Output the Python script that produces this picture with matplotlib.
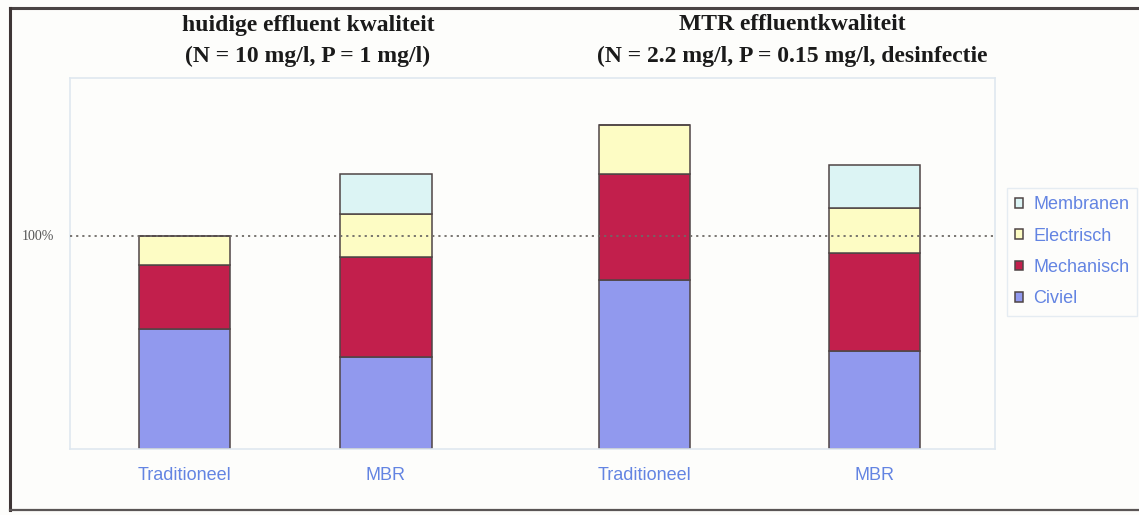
import matplotlib
matplotlib.use("Agg")
import matplotlib.pyplot as plt
from matplotlib.patches import Patch
from matplotlib.lines import Line2D
import numpy as np

# Relative investment costs (% of current traditional plant)
categories = ["Traditioneel", "MBR", "Traditioneel", "MBR"]
civiel = [56, 43, 79, 46]
mechanisch = [30, 47, 50, 46]
electrisch = [14, 20, 23, 21]
membranen = [0, 19, 0, 20]

series_names = ["Civiel", "Mechanisch", "Electrisch", "Membranen"]
series_values = [civiel, mechanisch, electrisch, membranen]
series_colors = ["#9199ee", "#c21f4c", "#fdfcc4", "#dcf4f4"]

group_titles = [
    ("huidige effluent kwaliteit", "(N = 10 mg/l, P = 1 mg/l)"),
    ("MTR effluentkwaliteit", "(N = 2.2 mg/l, P = 0.15 mg/l, desinfectie"),
]

W, H = 1139, 515
fig = plt.figure(figsize=(W / 100, H / 100), dpi=100)
fig.patch.set_facecolor("#fdfdfb")


def px(x, y):
    return x / W, 1 - y / H


# outer frame
for (x0, y0), (x1, y1), col, lw in [
    ((10, 8), (1139, 8), "#4a4444", 2.2),
    ((10, 8), (10, 510), "#3e3535", 2.2),
    ((10, 510), (1139, 510), "#5a5555", 1.6),
]:
    a, b = px(x0, y0)
    c, d = px(x1, y1)
    fig.add_artist(Line2D([a, c], [b, d], transform=fig.transFigure,
                          color=col, linewidth=lw))

ax = fig.add_axes([70 / W, (H - 449) / H, 925 / W, (449 - 78) / H])
ax.set_facecolor("#fdfdfb")

positions = np.array([0.0, 1.0, 2.283, 3.424])
bar_w = 0.452

bottom = np.zeros(len(categories))
for name, vals, col in zip(series_names, series_values, series_colors):
    vals = np.array(vals, dtype=float)
    ax.bar(positions, vals, bar_w, bottom=bottom, color=col,
           edgecolor="#4f4545", linewidth=1.1, label=name, zorder=2)
    bottom += vals

ax.set_xlim(-0.568, 4.022)
ax.set_ylim(0, 173.8)

# 100% reference line
ax.axhline(100, color="#6e6a66", linestyle=(0, (1.2, 2.2)), linewidth=1.3, zorder=3)
fig.text(*px(22, 236), "100%", fontsize=10, family="Liberation Serif",
         color="#555555", va="center", ha="left")

ax.set_yticks([])
ax.set_xticks(positions)
ax.set_xticklabels(categories, fontsize=13, family="Liberation Sans", color="#6384e2")
ax.tick_params(axis="x", length=0, pad=13)
for s in ax.spines.values():
    s.set_color("#dfe8f0")
    s.set_linewidth(1.2)

# group headings
for xc, (l1, l2) in zip([308, 792], group_titles):
    for yc, t in zip([25, 56], (l1, l2)):
        fig.text(*px(xc, yc), t, ha="center", va="center", fontsize=17,
                 family="Liberation Serif", fontweight="bold", color="#1a1a1a")

handles = [Patch(facecolor=c, edgecolor="#4f4545", linewidth=1.1, label=n)
           for n, c in zip(series_names, series_colors)][::-1]
leg = fig.legend(handles=handles, loc="upper left",
                 bbox_to_anchor=px(1007, 188),
                 frameon=True, fancybox=False,
                 prop={"family": "Liberation Sans", "size": 13},
                 handlelength=0.45, handleheight=0.45, handletextpad=0.55,
                 labelspacing=0.8, borderpad=0.45, borderaxespad=0)
leg.get_frame().set_edgecolor("#dfe8f0")
leg.get_frame().set_facecolor("#fdfdfb")
for txt in leg.get_texts():
    txt.set_color("#6384e2")

fig.savefig("out.png", dpi=100, facecolor=fig.get_facecolor())
